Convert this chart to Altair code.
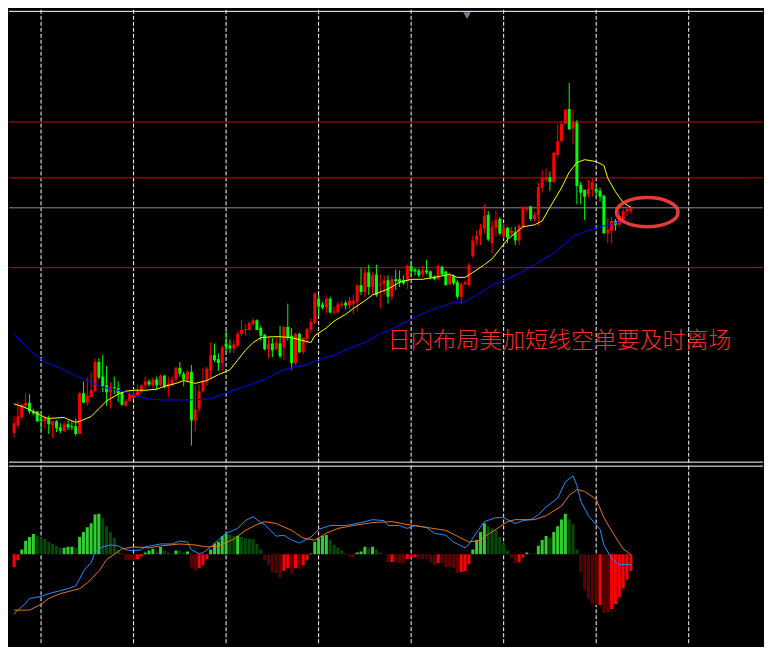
import altair as alt
import pandas as pd
import numpy as np

# ---------------- price panel data (price points, higher = higher on chart) ----------------
opens = [65,73,81,93,96,87,87,79,77,80,
         73,77,71,67,74,72,72,64,106,96,
         102,108,138,123,114,107,112,111,107,93,
         98,101,104,107,114,118,114,120,114,124,
         112,115,120,132,126,119,128,78,90,108,
         118,129,145,141,137,157,155,152,155,167,
         171,171,177,181,173,166,151,157,151,157,
         153,174,165,137,167,148,162,171,178,203,
         197,194,203,189,189,196,199,196,198,200,
         217,210,230,215,228,217,218,222,205,223,
         223,222,221,237,233,232,228,232,231,226,
         223,236,231,218,226,220,205,218,217,247,
         263,268,275,289,260,276,285,267,276,270,
         271,263,277,295,298,285,289,317,325,328,
         323,351,365,383,398,378,384,320,315,310,
         315,316,314,309,270,273,283,279,284,293,
         293]
highs = [82,97,95,106,105,90,88,83,82,83,
         78,78,75,77,78,77,80,107,118,122,
         127,142,142,145,134,117,123,118,108,100,
         108,110,115,115,123,120,122,123,125,125,
         123,123,133,138,128,130,135,114,115,132,
         133,158,157,147,155,170,161,161,170,181,
         177,180,183,182,175,167,163,163,163,175,
         175,198,173,168,168,163,173,183,210,207,
         200,205,205,195,200,201,201,205,207,218,
         235,235,238,230,238,228,227,227,227,233,
         232,227,238,242,235,234,237,243,232,227,
         238,237,232,230,228,222,220,222,240,268,
         273,280,300,293,283,294,287,280,277,277,
         277,280,298,298,298,292,322,335,337,334,
         354,383,385,398,425,397,387,323,315,325,
         327,318,317,310,286,287,285,293,295,298,
         298]
lows = [60,70,78,90,85,83,76,68,70,64,
        60,66,65,66,68,68,62,64,96,93,
        102,107,120,107,93,90,105,97,93,92,
        97,100,103,106,110,113,112,110,113,111,
        102,113,118,123,113,118,52,67,87,107,
        114,120,138,129,129,148,147,147,153,165,
        165,170,175,171,160,150,142,143,150,142,
        140,160,130,135,147,146,157,168,177,185,
        192,188,188,187,188,193,192,192,187,190,
        207,205,207,207,205,193,207,198,202,212,
        215,217,213,225,227,225,225,228,223,222,
        222,227,217,217,217,203,197,217,216,245,
        258,258,270,262,250,267,268,265,260,268,
        258,258,275,292,283,283,278,312,323,314,
        322,348,364,382,377,362,300,300,284,307,
        308,308,303,270,260,260,273,277,281,288,
        290]
closes = [75,82,94,96,87,85,77,77,81,74,
          77,70,67,74,71,71,64,106,96,103,
          109,138,122,113,107,112,111,106,94,98,
          106,105,108,114,118,115,120,114,124,112,
          116,120,132,126,120,128,78,89,108,118,
          131,145,140,137,153,154,152,156,167,171,
          172,178,181,171,165,151,157,150,158,144,
          174,163,137,167,148,163,172,179,208,195,
          194,203,189,190,197,198,196,201,201,217,
          210,230,215,227,207,218,222,205,223,221,
          220,219,237,231,231,227,232,230,225,223,
          237,228,217,227,219,205,218,220,238,263,
          268,275,288,264,277,284,270,276,266,273,
          263,278,297,297,285,289,318,327,328,323,
          353,365,383,397,377,385,319,312,308,316,
          323,313,308,270,274,283,279,288,293,295,
          297]

fast_ma_bar = [0,3,5,8,9,13,14,16,17,20,22,24,27,29,31,34,37,39,42,44,47,50,53,56,58,
               60,62,64,67,69,72,74,77,78,81,83,86,88,91,93,97,100,103,106,109,113,115,
               117,119,122,124,126,128,132,135,137,139,142,144,146,148,151,153,154,156,158,160]
fast_ma_val = [95,91,87,81,80,81,79,76,77,82,90,98,105,108,109,109,110,113,116,119,116,119,125,130,140,
               150,158,163,164,164,163,161,158,165,173,180,187,193,201,207,213,220,223,223,225,228,225,
               225,230,238,244,254,264,277,279,283,297,317,333,343,346,344,340,327,313,302,297]

slow_ma_bar = [0,4,8,13,17,20,23,28,32,35,38,45,51,55,60,65,70,73,76,78,83,87,91,95,97,
               102,106,110,114,117,120,124,130,135,140,143,145,148,152,155,158,160]
slow_ma_val = [167,150,138,130,122,117,112,108,103,100,99,99,100,106,113,120,130,133,135,139,145,152,158,167,170,
               180,188,194,199,200,207,217,227,238,250,260,267,272,277,280,283,285]

red_level_prices = [384.7, 327.3, 235]
gray_level_prices = [296.5]
grid_bars = [7, 31, 55, 79, 103, 127, 151, 175]

note_text = "日内布局美加短线空单要及时离场"

# ---------------- MACD panel data ----------------
hist_vals = [-13.3,-6.3,4.7,13.7,17.7,20.7,18.7,16.7,15.7,12.7,
             10.7,8.7,6.7,6.7,7.7,7.7,6.7,17.7,22.7,27.7,
             31.7,40.7,41.7,36.7,28.7,22.7,16.7,4.3,1.0,-6.3,
             -6.3,-6.3,-5.3,-2.3,1.7,3.7,5.7,2.7,7.3,3.7,
             1.7,0.7,3.7,3.7,1.7,2.7,-13.3,-17.3,-14.3,-11.3,
             -5.3,4.7,10.7,12.7,18.7,20.7,19.7,18.7,18.7,17.7,
             16.7,15.7,15.7,10.7,4.7,-6.3,-11.3,-18.3,-19.0,-24.0,
             -17.3,-14.3,-20.0,-14.3,-15.0,-11.3,-6.3,0.7,12.7,15.7,
             18.7,19.7,14.7,9.7,6.7,3.7,0.7,-2.3,-3.3,1.7,
             2.7,7.7,6.7,7.7,4.7,1.7,0.3,-8.3,-8.0,-8.3,
             -9.3,-9.3,-5.3,-3.3,-3.3,-4.3,-5.3,-5.3,-8.3,-11.3,
             -9.3,-9.3,-13.3,-13.3,-14.3,-19.3,-18.3,-17.3,-10.3,4.7,
             14.7,22.7,31.7,28.7,26.7,24.7,17.7,10.7,3.7,-3.3,
             -9.3,-8.3,-3.3,1.7,0.7,0.7,8.7,14.7,18.7,16.7,
             22.7,28.7,35.7,41.7,35.7,30.7,4.7,-18.3,-36.3,-46.3,
             -50.3,-52.3,-52.3,-60.3,-60.3,-56.3,-51.3,-44.3,-35.3,-26.3,
             -17.3]
hist_state = list("RRGGGGgggg" "gggGGGgGGG" "GGGggggggr" "rrRRGGGgGg" "ggGggGrrRR"
                  "RGGGGGggGg" "gggggrrrrr" "RRrRrRRGGG" "GGgggggrrG" "GGgGgggrRr"
                  "rrRRRrrrrr" "RrrrrrRRRG" "GGGggggggr" "rRRGggGGGg" "GGGGgggrrr"
                  "rrRrrRRRRR" "R")

macd_bar = [0,1,3,4,7,9,12,14,16,17,18,20,21,23,25,27,29,31,33,34,38,41,43,45,46,
            48,49,51,53,55,58,60,62,64,65,68,70,72,74,77,79,82,86,90,93,96,97,100,102,104,
            107,109,112,114,117,118,120,122,125,127,130,132,134,136,138,141,143,145,146,147,
            149,152,153,155,157,160]
macd_val = [-61.5,-57.5,-50.5,-45.5,-43.5,-40.5,-37.5,-35.5,-32.5,-25.5,-17.5,-8.5,2.5,7.5,9.5,
            8.5,4.5,3.5,4.5,7.5,10.5,10.5,13.5,12.5,4.5,0.5,1.5,7.5,14.5,21.5,
            26.5,34.5,38.5,32.5,30.5,18.5,19.5,14.5,11.5,17.5,25.5,29.5,29.5,32.5,35.5,
            34.5,29.5,29.5,26.5,29.5,27.5,21.5,19.5,12.5,6.5,10.5,22.5,33.5,37.5,37.5,
            31.5,34.5,35.5,40.5,48.5,57.5,74.5,80.5,70.5,54.5,39.5,25.5,9.5,-4.5,-10.5,-10.5]
signal_bar = [0,4,7,9,12,14,17,19,22,24,28,31,35,38,43,47,50,53,57,60,63,65,68,72,75,
              78,81,84,88,93,98,102,107,112,115,118,121,123,125,128,130,135,138,142,144,
              146,148,151,153,156,158,160]
signal_val = [-57.5,-57.5,-51.5,-45.5,-40.5,-38.5,-35.5,-29.5,-17.5,-5.5,5.5,7.5,6.5,8.5,10.5,
              9.5,7.5,8.5,15.5,24.5,30.5,33.5,31.5,24.5,16.5,14.5,21.5,26.5,29.5,32.5,
              33.5,30.5,27.5,24.5,18.5,12.5,14.5,20.5,25.5,33.5,35.5,35.5,39.5,49.5,60.5,
              66.5,64.5,56.5,37.5,17.5,5.5,-0.5]

# ---------------- tables ----------------
candles = pd.DataFrame({"bar": np.arange(len(opens)), "open": opens, "high": highs,
                        "low": lows, "close": closes})
candles["dir"] = np.where(candles["close"] > candles["open"], "up", "down")
fast_df = pd.DataFrame({"bar": fast_ma_bar, "v": fast_ma_val})
slow_df = pd.DataFrame({"bar": slow_ma_bar, "v": slow_ma_val})
grid_df = pd.DataFrame({"bar": grid_bars})
hist_df = pd.DataFrame({"bar": np.arange(len(hist_vals)), "h": hist_vals, "state": hist_state})
macd_df = pd.DataFrame({"bar": macd_bar, "v": macd_val})
signal_df = pd.DataFrame({"bar": signal_bar, "v": signal_val})

# ---------------- layout ----------------
W, H1, H2 = 756, 455, 180
xs = alt.Scale(domain=[-0.0205, 192.98], nice=False, zero=False)
ys = alt.Scale(domain=[33.53, 500], nice=False, zero=False)
ms = alt.Scale(domain=[-93.5, 91.03], nice=False, zero=False)
X = alt.X("bar:Q", scale=xs, axis=None)


def Yp(field):
    return alt.Y(field, type="quantitative", scale=ys, axis=None)


def Ym(field):
    return alt.Y(field, type="quantitative", scale=ms, axis=None)


vgrid = alt.Chart(grid_df).mark_rule(color="#ffffff", strokeDash=[4, 2], strokeWidth=1).encode(x=X)

red_levels = alt.Chart(pd.DataFrame({"price": red_level_prices})).mark_rule(
    color="#d40000", strokeWidth=1).encode(y=Yp("price"))
gray_levels = alt.Chart(pd.DataFrame({"price": gray_level_prices})).mark_rule(
    color="#878e96", strokeWidth=1).encode(y=Yp("price"))

borders_top = alt.Chart(pd.DataFrame({"price": [498.46, 35.08]})).mark_rule(
    color="#ffffff", strokeWidth=1).encode(y=Yp("price"))

candle_layers = []
for d, col in [("up", "#ff0000"), ("down", "#00ff00")]:
    base = alt.Chart(candles).transform_filter(alt.datum.dir == d)
    candle_layers.append(base.mark_rule(color=col, strokeWidth=1, clip=True).encode(
        x=X, y=Yp("low"), y2="high"))
    candle_layers.append(base.mark_bar(color=col, size=3, clip=True).encode(
        x=X, y=Yp("open"), y2="close"))

fast_line = alt.Chart(fast_df).mark_line(color="#ffff00", strokeWidth=1, clip=True).encode(x=X, y=Yp("v"))
slow_line = alt.Chart(slow_df).mark_line(color="#0000ff", strokeWidth=1, clip=True).encode(x=X, y=Yp("v"))

note = alt.Chart(pd.DataFrame({"bar": [96.875], "price": [160], "t": [note_text]})).mark_text(
    align="left", baseline="middle", font="Noto Sans CJK SC", fontSize=23, fontWeight=300,
    color="#ff2b2b").encode(x=X, y=Yp("price"), text="t:N")

ellipse_path = ("M -1 0 C -1 -0.263 -0.552 -0.476 0 -0.476 C 0.552 -0.476 1 -0.263 1 0 "
                "C 1 0.263 0.552 0.476 0 0.476 C -0.552 0.476 -1 0.263 -1 0 Z")
ellipse = alt.Chart(pd.DataFrame({"bar": [164.25], "price": [292]})).mark_point(
    shape=ellipse_path, size=3807, filled=False, color="#ff4040", strokeWidth=3.5, opacity=0.9
).encode(x=X, y=Yp("price"))

marker = alt.Chart(pd.DataFrame({"bar": [117.5], "price": [494]})).mark_point(
    shape="triangle-down", size=60, filled=True, color="#6f7f8f", opacity=1
).encode(x=X, y=Yp("price"))

top = alt.layer(vgrid, red_levels, gray_levels, borders_top, *candle_layers,
                fast_line, slow_line, note, ellipse, marker).properties(width=W, height=H1)

# MACD panel
vgrid2 = alt.Chart(grid_df).mark_rule(color="#ffffff", strokeDash=[4, 2], strokeWidth=1).encode(x=X)
border_bot = alt.Chart(pd.DataFrame({"m": [90.5]})).mark_rule(
    color="#ffffff", strokeWidth=1).encode(y=Ym("m"))
hist_layers = []
for s, col in [("G", "#32cd32"), ("g", "#064a06"), ("R", "#ff0000"), ("r", "#5e0000")]:
    hist_layers.append(alt.Chart(hist_df).transform_filter(alt.datum.state == s).mark_bar(
        color=col, size=3, clip=True).encode(x=X, y=Ym("h"), y2=alt.datum(0)))
macd_line = alt.Chart(macd_df).mark_line(color="#1e90ff", strokeWidth=1, clip=True).encode(x=X, y=Ym("v"))
signal_line = alt.Chart(signal_df).mark_line(color="#e8741c", strokeWidth=1, clip=True).encode(x=X, y=Ym("v"))

bottom = alt.layer(vgrid2, *hist_layers, border_bot, macd_line, signal_line).properties(width=W, height=H2)

chart = alt.vconcat(top, bottom, spacing=0).properties(
    padding=0, background="#000000").configure_view(stroke=None)

chart.save("out.html", embed_options={"renderer": "svg", "actions": False})
